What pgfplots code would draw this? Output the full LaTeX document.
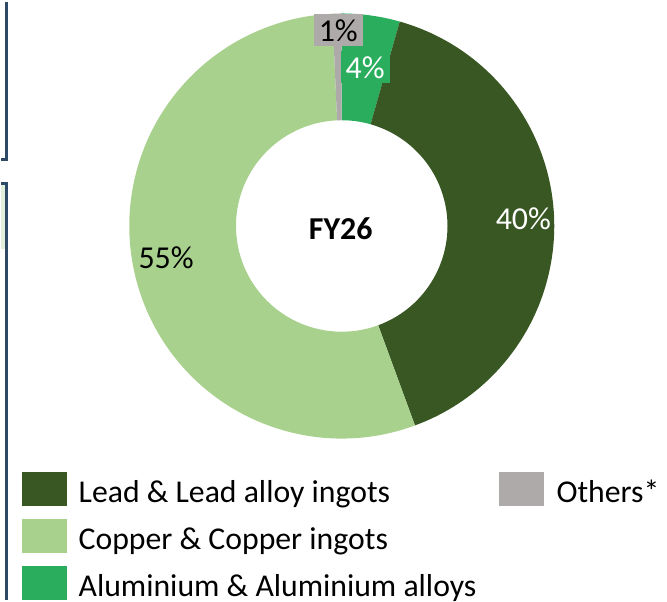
\documentclass[border=0pt]{standalone}
\usepackage{pgfplots}
\pgfplotsset{compat=1.18}
\usepackage{pgfplotstable}
\usepackage{fontspec}
\setmainfont{Carlito}
\definecolor{lead}{HTML}{385723}
\definecolor{copper}{HTML}{A9D18E}
\definecolor{alu}{HTML}{2AAE5E}
\definecolor{others}{HTML}{AEAAAA}
\definecolor{frame}{HTML}{2E4A66}
\definecolor{framefill}{HTML}{E2EFDA}

% slices in drawing order, clockwise from 12 o'clock (values in %)
\pgfplotstableread{
name value col
Aluminium 4.4 alu
Lead 40.0 lead
Copper 54.9 copper
Others 0.7 others
}\pietable

\begin{document}%
\begin{tikzpicture}
\def\cum{90}
\pgfplotsforeachungrouped \i in {0,...,3}{%
  \pgfplotstablegetelem{\i}{value}\of\pietable
  \pgfmathsetmacro\sweep{\pgfplotsretval*3.6}%
  \pgfmathsetmacro\endang{\cum-\sweep}%
  \expandafter\xdef\csname sa\i\endcsname{\cum}%
  \expandafter\xdef\csname ea\i\endcsname{\endang}%
  \pgfplotstablegetelem{\i}{col}\of\pietable
  \colorlet{slice\i}{\pgfplotsretval}%
  \xdef\cum{\endang}%
}
\begin{axis}[x=0.02cm, y=0.02cm, xmin=0, xmax=667, ymin=-600, ymax=0,
  hide axis, clip=false, disabledatascaling]
\path (axis cs:0,0) (axis cs:667,-600);
% left frame remnants
\fill[framefill] (axis cs:0,-182) rectangle (axis cs:5,-248);
\draw[frame, line width=0.06cm] (axis cs:0,-158) -- (axis cs:5,-158) -- (axis cs:5,0);
\draw[frame, line width=0.06cm] (axis cs:0,-182) -- (axis cs:5,-182) -- (axis cs:5,-600);
% donut
\pgfplotsinvokeforeach{0,...,3}{
  \fill[slice#1] (axis cs:{341+213*cos(\csname sa#1\endcsname)},{-225+213*sin(\csname sa#1\endcsname)})
    arc[start angle=\csname sa#1\endcsname, end angle=\csname ea#1\endcsname, radius=4.26cm]
    -- (axis cs:{341+106*cos(\csname ea#1\endcsname)},{-225+106*sin(\csname ea#1\endcsname)})
    arc[start angle=\csname ea#1\endcsname, end angle=\csname sa#1\endcsname, radius=2.12cm]
    -- cycle;
}
% labels
\node[font=\fontsize{18.2}{20}\selectfont, fill=others, text=black, inner sep=0pt,
  minimum width=0.98cm, minimum height=0.64cm] at (axis cs:337.5,-29) {1\%};
\node[font=\fontsize{18.2}{20}\selectfont, fill=alu, text=white, inner sep=0pt,
  minimum width=0.98cm, minimum height=0.64cm] at (axis cs:364.5,-66) {4\%};
\node[font=\fontsize{18.2}{20}\selectfont, text=white] at (axis cs:523,-218) {40\%};
\node[font=\fontsize{18.2}{20}\selectfont, text=black] at (axis cs:165,-257) {55\%};
\node[font=\fontsize{18.2}{20}\selectfont\bfseries, text=black] at (axis cs:340,-228) {FY26};
% legend
\fill[lead] (axis cs:21,-472) rectangle (axis cs:66,-506);
\fill[copper] (axis cs:21,-519) rectangle (axis cs:66,-553);
\fill[alu] (axis cs:21,-566) rectangle (axis cs:66,-600);
\fill[others] (axis cs:499,-472) rectangle (axis cs:544,-506);
\node[anchor=base west, inner sep=0pt, font=\fontsize{18.1}{20}\selectfont] at (axis cs:77,-502) {Lead \& Lead alloy ingots};
\node[anchor=base west, inner sep=0pt, font=\fontsize{18.1}{20}\selectfont] at (axis cs:77,-549) {Copper \& Copper ingots};
\node[anchor=base west, inner sep=0pt, font=\fontsize{18.1}{20}\selectfont] at (axis cs:77,-596) {Aluminium \& Aluminium alloys};
\node[anchor=base west, inner sep=0pt, font=\fontsize{18.1}{20}\selectfont] at (axis cs:556,-502) {Others*};
\end{axis}
\end{tikzpicture}%
\end{document}
